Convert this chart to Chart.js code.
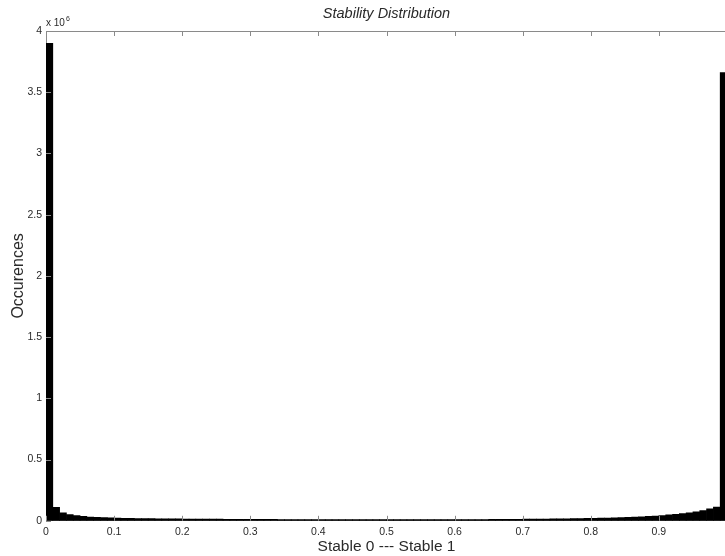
<!DOCTYPE html>
<html>
<head>
<meta charset="utf-8">
<script src="https://cdn.jsdelivr.net/npm/chart.js@4"></script>
<style>
  body { margin: 0; overflow: hidden; background: #fff; }
  canvas { display: block; }
</style>
</head>
<body>
<canvas id="stabilityChart" width="732" height="556"></canvas>
<script>
// histogram of stability values, 100 bins of width 0.01 on [0, 1]
const binWidth = 0.01;
const binStarts = [
  0.00, 0.01, 0.02, 0.03, 0.04, 0.05, 0.06, 0.07, 0.08, 0.09,
  0.10, 0.11, 0.12, 0.13, 0.14, 0.15, 0.16, 0.17, 0.18, 0.19,
  0.20, 0.21, 0.22, 0.23, 0.24, 0.25, 0.26, 0.27, 0.28, 0.29,
  0.30, 0.31, 0.32, 0.33, 0.34, 0.35, 0.36, 0.37, 0.38, 0.39,
  0.40, 0.41, 0.42, 0.43, 0.44, 0.45, 0.46, 0.47, 0.48, 0.49,
  0.50, 0.51, 0.52, 0.53, 0.54, 0.55, 0.56, 0.57, 0.58, 0.59,
  0.60, 0.61, 0.62, 0.63, 0.64, 0.65, 0.66, 0.67, 0.68, 0.69,
  0.70, 0.71, 0.72, 0.73, 0.74, 0.75, 0.76, 0.77, 0.78, 0.79,
  0.80, 0.81, 0.82, 0.83, 0.84, 0.85, 0.86, 0.87, 0.88, 0.89,
  0.90, 0.91, 0.92, 0.93, 0.94, 0.95, 0.96, 0.97, 0.98, 0.99
];
const occurrences = [
  3900000, 110000, 65000, 50000, 42000, 36000, 31000, 28000, 26000, 24000,
  22000, 21000, 20000, 19000, 18500, 18000, 17000, 16500, 16000, 15500,
  15000, 14600, 14200, 13800, 13500, 13200, 12900, 12600, 12300, 12000,
  11700, 11500, 11200, 11000, 10800, 10600, 10400, 10200, 10000, 9900,
  9700, 9600, 9500, 9400, 9300, 9200, 9100, 9100, 9000, 9000,
  9000, 9000, 9100, 9100, 9200, 9300, 9400, 9500, 9600, 9800,
  10000, 10200, 10400, 10600, 10900, 11200, 11500, 11900, 12300, 12700,
  13200, 13700, 14200, 14800, 15400, 16100, 16800, 17600, 18500, 19500,
  20500, 21700, 23000, 24500, 26200, 28000, 30200, 32800, 35800, 39500,
  43500, 48000, 53000, 59000, 66000, 74000, 84000, 97000, 112000, 3660000
];
const xTicks = [0, 0.1, 0.2, 0.3, 0.4, 0.5, 0.6, 0.7, 0.8, 0.9];
const yTicks = [0, 0.5, 1, 1.5, 2, 2.5, 3, 3.5, 4];
const yScaleExp = 6;
const titleText = 'Stability Distribution';

const axisColor = '#8a8a8a';
const textColor = '#2a2a2a';
const fontFamily = '"Liberation Sans", Arial, sans-serif';

// box around the plot with inward ticks, the title over the plot area
// and the "x 10^6" multiplier
const matlabAxes = {
  id: 'matlabAxes',
  afterDraw(chart) {
    const { ctx, chartArea: a, scales } = chart;
    const len = 5;
    ctx.save();
    ctx.strokeStyle = axisColor;
    ctx.lineWidth = 1;
    ctx.beginPath();
    ctx.moveTo(a.left, a.top + 0.5);
    ctx.lineTo(a.right, a.top + 0.5);
    ctx.moveTo(a.right - 0.5, a.top);
    ctx.lineTo(a.right - 0.5, a.bottom);
    xTicks.forEach(t => {
      const px = Math.round(scales.x.getPixelForValue(t)) + 0.5;
      ctx.moveTo(px, a.bottom);
      ctx.lineTo(px, a.bottom - len);
      ctx.moveTo(px, a.top);
      ctx.lineTo(px, a.top + len);
    });
    yTicks.forEach(t => {
      const py = Math.round(scales.y.getPixelForValue(t * 10 ** yScaleExp)) + 0.5;
      ctx.moveTo(a.left, py);
      ctx.lineTo(a.left + len, py);
    });
    ctx.stroke();

    ctx.fillStyle = textColor;
    ctx.textBaseline = 'middle';
    ctx.textAlign = 'center';
    ctx.font = 'italic 14.5px ' + fontFamily;
    ctx.fillText(titleText, (a.left + a.right) / 2, 14);

    ctx.textBaseline = 'alphabetic';
    ctx.textAlign = 'left';
    ctx.font = '10px ' + fontFamily;
    const base = 'x 10';
    ctx.fillText(base, a.left, a.top - 5);
    const w = ctx.measureText(base).width;
    ctx.font = '7px ' + fontFamily;
    ctx.fillText(String(yScaleExp), a.left + w + 1, a.top - 10);
    ctx.restore();
  }
};

new Chart(document.getElementById('stabilityChart'), {
  type: 'bar',
  data: {
    datasets: [{
      label: 'Occurences',
      data: binStarts.map((s, i) => ({ x: s + binWidth / 2, y: occurrences[i] })),
      backgroundColor: '#000',
      borderWidth: 0,
      barPercentage: 1,
      categoryPercentage: 1
    }]
  },
  options: {
    responsive: false,
    animation: false,
    layout: { padding: { left: 9, right: 3, top: 31, bottom: 0 } },
    plugins: {
      legend: { display: false },
      tooltip: { enabled: false },
      title: { display: false }
    },
    scales: {
      x: {
        type: 'linear',
        offset: false,
        min: 0,
        max: 1,
        grid: { display: false, drawTicks: false, tickLength: 0 },
        border: { display: true, color: axisColor },
        ticks: {
          stepSize: 0.1,
          color: textColor,
          font: { family: fontFamily, size: 10.5 },
          padding: 5,
          maxRotation: 0,
          autoSkip: false,
          callback: v => (v >= 0.999 ? '' : String(Math.round(v * 10) / 10))
        },
        title: {
          display: true,
          text: 'Stable 0 --- Stable 1',
          color: textColor,
          font: { family: fontFamily, size: 15.5 },
          padding: { top: -6, bottom: 0 }
        }
      },
      y: {
        min: 0,
        max: 4 * 10 ** yScaleExp,
        grid: { display: false, drawTicks: false, tickLength: 0 },
        border: { display: true, color: axisColor },
        afterFit: scale => { scale.width = 37; },
        ticks: {
          stepSize: 500000,
          color: textColor,
          font: { family: fontFamily, size: 10.5 },
          padding: 4,
          callback: v => String(v / 10 ** yScaleExp)
        },
        title: {
          display: true,
          text: 'Occurences',
          color: textColor,
          font: { family: fontFamily, size: 16 },
          padding: { top: 0, bottom: 0 }
        }
      }
    }
  },
  plugins: [matlabAxes]
});
</script>
</body>
</html>
